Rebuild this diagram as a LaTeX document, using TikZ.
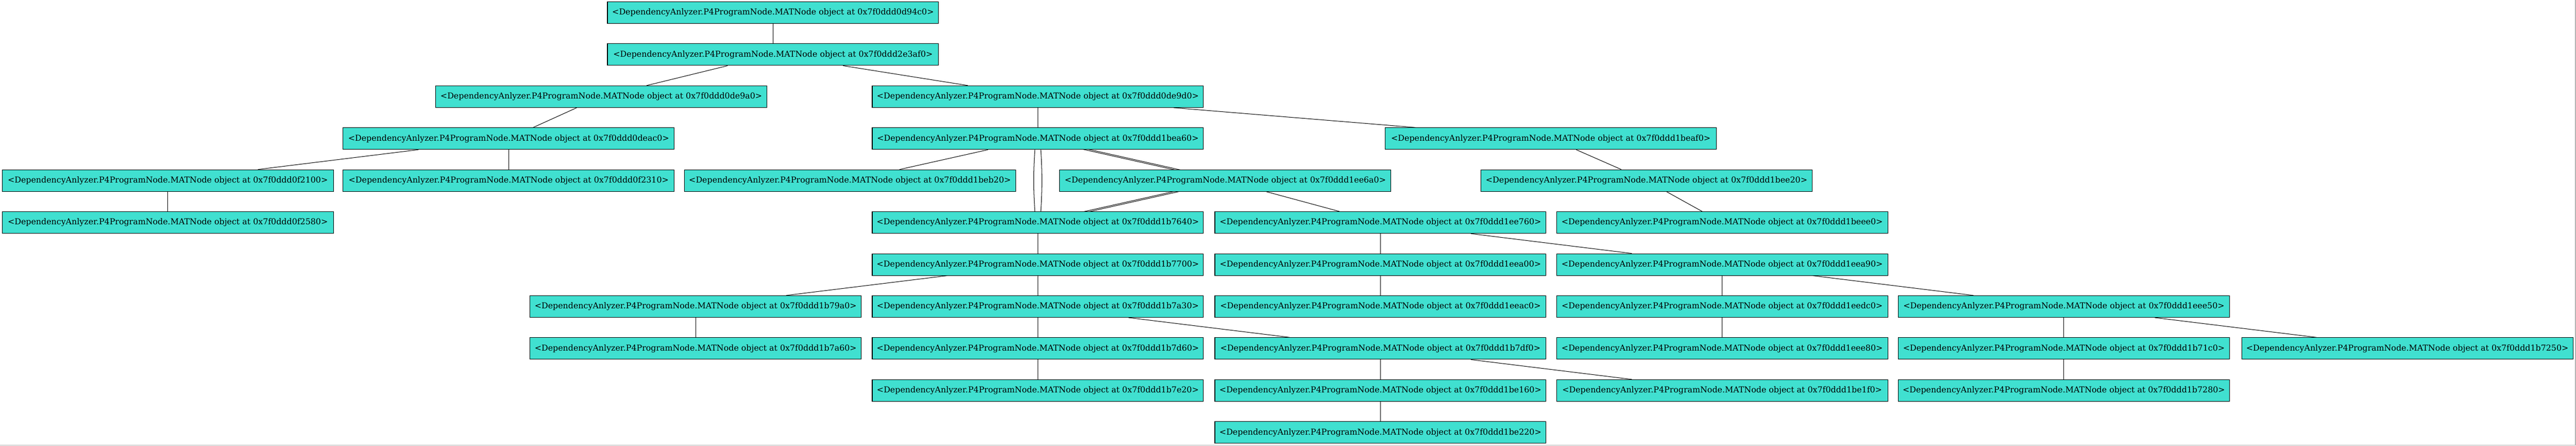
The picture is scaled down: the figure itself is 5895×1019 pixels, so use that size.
\documentclass[tikz,border=0pt]{standalone}
\usepackage{fontspec}
\setmainfont{DejaVu Serif}
\usetikzlibrary{backgrounds}
\definecolor{turq}{HTML}{40E0D0}
\newcommand\matlbl[1]{<DependencyAnlyzer.P4ProgramNode.MATNode object at 0x7f0ddd#1>}
\newlength\lblwd
\begin{document}
\settowidth\lblwd{\fontsize{19.3}{23}\selectfont\matlbl{1bea60}}%
\pgfmathsetmacro\lblfs{19.3*736/\lblwd}%
\begin{tikzpicture}[x=1pt,y=-1pt,
  mat/.style={draw=black, line width=1.3pt, fill=turq, minimum width=758pt,
    minimum height=49.5pt, inner sep=0pt, font=\fontsize{\lblfs}{\lblfs}\selectfont},
  edge/.style={line width=1.2pt, black}]
\useasboundingbox (0,0) rectangle (5895,1019);
% row 0
\node[mat] (d94c0) at (1769,28.9) {\matlbl{0d94c0}};
% row 1
\node[mat] (e3af0) at (1769,124.9) {\matlbl{2e3af0}};
% row 2
\node[mat] (de9a0) at (1376,220.9) {\matlbl{0de9a0}};
\node[mat] (de9d0) at (2375,220.9) {\matlbl{0de9d0}};
% row 3
\node[mat] (deac0) at (1164,316.9) {\matlbl{0deac0}};
\node[mat] (bea60) at (2375,316.9) {\matlbl{1bea60}};
\node[mat] (beaf0) at (3549,316.9) {\matlbl{1beaf0}};
% row 4
\node[mat] (f2100) at (384,412.9) {\matlbl{0f2100}};
\node[mat] (f2310) at (1164,412.9) {\matlbl{0f2310}};
\node[mat] (beb20) at (1945,412.9) {\matlbl{1beb20}};
\node[mat] (ee6a0) at (2804,412.9) {\matlbl{1ee6a0}};
\node[mat] (bee20) at (3768,412.9) {\matlbl{1bee20}};
% row 5
\node[mat] (f2580) at (384,508.9) {\matlbl{0f2580}};
\node[mat] (b7640) at (2375,508.9) {\matlbl{1b7640}};
\node[mat] (ee760) at (3159,508.9) {\matlbl{1ee760}};
\node[mat] (beee0) at (3941,508.9) {\matlbl{1beee0}};
% row 6
\node[mat] (b7700) at (2375,604.9) {\matlbl{1b7700}};
\node[mat] (eea00) at (3159,604.9) {\matlbl{1eea00}};
\node[mat] (eea90) at (3941,604.9) {\matlbl{1eea90}};
% row 7
\node[mat] (b79a0) at (1592,700.9) {\matlbl{1b79a0}};
\node[mat] (b7a30) at (2375,700.9) {\matlbl{1b7a30}};
\node[mat] (eeac0) at (3159,700.9) {\matlbl{1eeac0}};
\node[mat] (eedc0) at (3941,700.9) {\matlbl{1eedc0}};
\node[mat] (eee50) at (4723,700.9) {\matlbl{1eee50}};
% row 8
\node[mat] (b7a60) at (1592,796.9) {\matlbl{1b7a60}};
\node[mat] (b7d60) at (2375,796.9) {\matlbl{1b7d60}};
\node[mat] (b7df0) at (3159,796.9) {\matlbl{1b7df0}};
\node[mat] (eee80) at (3941,796.9) {\matlbl{1eee80}};
\node[mat] (b71c0) at (4723,796.9) {\matlbl{1b71c0}};
\node[mat] (b7250) at (5509,796.9) {\matlbl{1b7250}};
% row 9
\node[mat] (b7e20) at (2375,892.9) {\matlbl{1b7e20}};
\node[mat] (be160) at (3159,892.9) {\matlbl{1be160}};
\node[mat] (be1f0) at (3941,892.9) {\matlbl{1be1f0}};
\node[mat] (b7280) at (4723,892.9) {\matlbl{1b7280}};
% row 10
\node[mat] (be220) at (3159,988.9) {\matlbl{1be220}};
\begin{scope}[on background layer]
\draw[edge] (d94c0) -- (e3af0);
\draw[edge] (e3af0) -- (de9a0);
\draw[edge] (e3af0) -- (de9d0);
\draw[edge] (de9a0) -- (deac0);
\draw[edge] (deac0) -- (f2100);
\draw[edge] (deac0) -- (f2310);
\draw[edge] (f2100) -- (f2580);
\draw[edge] (de9d0) -- (bea60);
\draw[edge] (de9d0) -- (beaf0);
\draw[edge] (bea60) -- (beb20);
\draw[edge] ([xshift=-6.7pt]bea60.south) .. controls +(-3.5,48) and +(-3.5,-48) .. ([xshift=-6.7pt]b7640.north);
\draw[edge] ([xshift=6.7pt]bea60.south) .. controls +(3.5,48) and +(3.5,-48) .. ([xshift=6.7pt]b7640.north);
\draw[edge] ([yshift=1.4pt]bea60.center) -- ([yshift=1.4pt]ee6a0.center);
\draw[edge] ([yshift=-1.4pt]bea60.center) -- ([yshift=-1.4pt]ee6a0.center);
\draw[edge] ([yshift=1.4pt]ee6a0.center) -- ([yshift=1.4pt]b7640.center);
\draw[edge] ([yshift=-1.4pt]ee6a0.center) -- ([yshift=-1.4pt]b7640.center);
\draw[edge] (ee6a0) -- (ee760);
\draw[edge] (beaf0) -- (bee20);
\draw[edge] (bee20) -- (beee0);
\draw[edge] (b7640) -- (b7700);
\draw[edge] (ee760) -- (eea00);
\draw[edge] (ee760) -- (eea90);
\draw[edge] (eea00) -- (eeac0);
\draw[edge] (eea90) -- (eedc0);
\draw[edge] (eea90) -- (eee50);
\draw[edge] (eedc0) -- (eee80);
\draw[edge] (eee50) -- (b71c0);
\draw[edge] (eee50) -- (b7250);
\draw[edge] (b71c0) -- (b7280);
\draw[edge] (b7700) -- (b79a0);
\draw[edge] (b7700) -- (b7a30);
\draw[edge] (b79a0) -- (b7a60);
\draw[edge] (b7a30) -- (b7d60);
\draw[edge] (b7a30) -- (b7df0);
\draw[edge] (b7d60) -- (b7e20);
\draw[edge] (b7df0) -- (be160);
\draw[edge] (b7df0) -- (be1f0);
\draw[edge] (be160) -- (be220);
\end{scope}
\draw[gray!60, line width=2pt] (5894,0) -- (5894,1018) -- (0,1018);
\end{tikzpicture}
\end{document}
